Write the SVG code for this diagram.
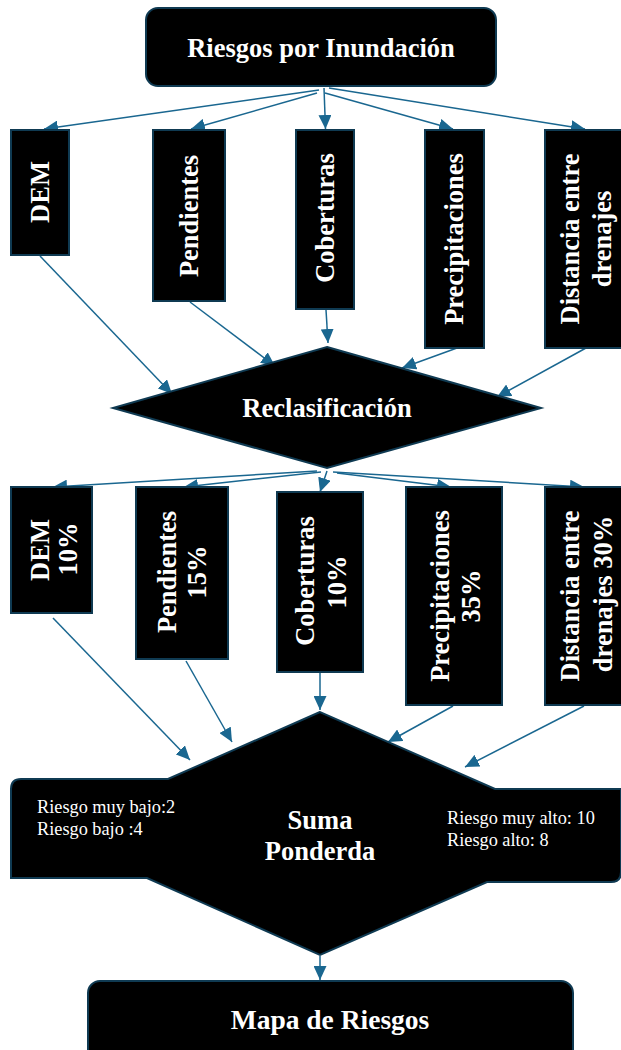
<svg xmlns="http://www.w3.org/2000/svg" width="621" height="1050" viewBox="0 0 621 1050">
<style>
.box{fill:#000;stroke:#0f3a52;stroke-width:2}
.t{font-family:"Liberation Serif","Times New Roman",serif;font-weight:bold;fill:#fff;text-anchor:middle}
.big{font-size:26.5px}
.v{font-size:26.5px}
.small{font-family:"Liberation Serif","Times New Roman",serif;font-size:18.3px;fill:#fff}
.c{stroke:#1a6790;stroke-width:1.5;fill:none;marker-end:url(#ah)}
</style>
<defs>
<marker id="ah" markerUnits="userSpaceOnUse" markerWidth="15" markerHeight="13" refX="14" refY="6.5" orient="auto">
<path d="M0,0 L14,6.5 L0,13 z" fill="#1a6790"/>
</marker>
</defs>
<rect width="621" height="1050" fill="#fff"/>

<g id="connectors">
<line class="c" x1="319" y1="90" x2="44" y2="129"/>
<line class="c" x1="317" y1="93" x2="191" y2="129"/>
<line class="c" x1="324" y1="88" x2="325.5" y2="129"/>
<line class="c" x1="325" y1="93" x2="453" y2="129"/>
<line class="c" x1="329" y1="88" x2="585" y2="129"/>

<line class="c" x1="40" y1="256" x2="172" y2="394"/>
<line class="c" x1="190" y1="302" x2="275" y2="366"/>
<line class="c" x1="326" y1="310" x2="328" y2="343"/>
<line class="c" x1="457" y1="348" x2="402" y2="368"/>
<line class="c" x1="586" y1="348" x2="497" y2="397"/>

<line class="c" x1="317" y1="471" x2="53" y2="487"/>
<line class="c" x1="321" y1="472" x2="184" y2="487"/>
<line class="c" x1="327" y1="471" x2="320" y2="492"/>
<line class="c" x1="337" y1="473" x2="451" y2="487"/>
<line class="c" x1="333" y1="472" x2="584" y2="487"/>

<line class="c" x1="53" y1="618" x2="190" y2="760"/>
<line class="c" x1="186" y1="661" x2="232" y2="742"/>
<line class="c" x1="320" y1="672" x2="320" y2="710"/>
<line class="c" x1="453" y1="706" x2="388" y2="742"/>
<line class="c" x1="584" y1="706" x2="465" y2="767"/>

<line class="c" x1="320" y1="956" x2="320" y2="980"/>
</g>

<g id="n-riesgos">
<rect class="box" x="146" y="8" width="350" height="78" rx="12"/>
<text class="t big" x="321" y="57">Riesgos por Inundación</text>
</g>

<g id="n-dem1">
<rect class="box" x="11" y="130" width="58" height="125"/>
<text class="t v" transform="translate(40,192) rotate(-90)" dy="0.35em">DEM</text>
</g>
<g id="n-pend1">
<rect class="box" x="153" y="130" width="72" height="171"/>
<text class="t v" transform="translate(189,216) rotate(-90)" dy="0.35em">Pendientes</text>
</g>
<g id="n-cob1">
<rect class="box" x="296" y="130" width="58" height="179"/>
<text class="t v" transform="translate(325,218) rotate(-90)" dy="0.35em">Coberturas</text>
</g>
<g id="n-prec1">
<rect class="box" x="425" y="130" width="59" height="218"/>
<text class="t v" transform="translate(454,239) rotate(-90)" dy="0.35em">Precipitaciones</text>
</g>
<g id="n-dist1">
<rect class="box" x="545" y="130" width="78" height="218"/>
<text class="t v" transform="translate(570,239) rotate(-90)" dy="0.35em">Distancia entre</text>
<text class="t v" transform="translate(602,239) rotate(-90)" dy="0.35em">drenajes</text>
</g>

<g id="n-reclas">
<polygon class="box" points="327,347 541,408 327,468 113,408"/>
<text class="t big" x="327" y="417">Reclasificación</text>
</g>

<g id="n-dem2">
<rect class="box" x="11" y="487" width="81" height="126"/>
<text class="t v" transform="translate(40,550) rotate(-90)" dy="0.35em">DEM</text>
<text class="t v" transform="translate(68,549) rotate(-90)" dy="0.35em">10%</text>
</g>
<g id="n-pend2">
<rect class="box" x="136" y="487" width="92" height="172"/>
<text class="t v" transform="translate(167,572) rotate(-90)" dy="0.35em">Pendientes</text>
<text class="t v" transform="translate(197,572) rotate(-90)" dy="0.35em">15%</text>
</g>
<g id="n-cob2">
<rect class="box" x="277" y="492" width="86" height="180"/>
<text class="t v" transform="translate(305,581) rotate(-90)" dy="0.35em">Coberturas</text>
<text class="t v" transform="translate(337,582) rotate(-90)" dy="0.35em">10%</text>
</g>
<g id="n-prec2">
<rect class="box" x="406" y="487" width="96" height="218"/>
<text class="t v" transform="translate(440,596) rotate(-90)" dy="0.35em">Precipitaciones</text>
<text class="t v" transform="translate(471,596) rotate(-90)" dy="0.35em">35%</text>
</g>
<g id="n-dist2">
<rect class="box" x="545" y="487" width="78" height="218"/>
<text class="t v" transform="translate(570,596) rotate(-90)" dy="0.35em">Distancia entre</text>
<text class="t v" transform="translate(603,594) rotate(-90)" dy="0.35em">drenajes 30%</text>
</g>

<g id="n-suma">
<path class="box" d="M320,712 L168,779 L21,779 Q11,779 11,789 L11,878 L147,878 L320,955 L487,882 L611,882 Q621,882 621,872 L621,789 L495,789 Z"/>
<text class="small" x="37" y="813">Riesgo muy bajo:2</text>
<text class="small" x="37" y="835">Riesgo bajo :4</text>
<text class="small" x="447" y="824">Riesgo muy alto: 10</text>
<text class="small" x="447" y="846">Riesgo alto: 8</text>
<text class="t big" x="320" y="829">Suma</text>
<text class="t big" x="320" y="860">Ponderda</text>
</g>

<g id="n-mapa">
<rect class="box" x="88" y="981" width="485" height="90" rx="12"/>
<text class="t" style="font-size:27.5px" x="330" y="1029">Mapa de Riesgos</text>
</g>
</svg>
